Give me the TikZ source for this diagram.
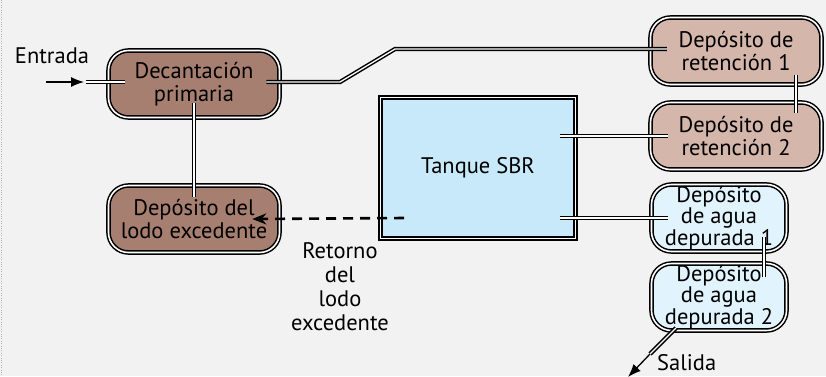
\documentclass[tikz,border=0pt]{standalone}
\usepackage{fontspec}
\setmainfont{PT Sans}
\usetikzlibrary{calc,arrows.meta}
\definecolor{backgr}{RGB}{242,242,242}
\definecolor{sludge}{RGB}{167,127,112}
\definecolor{retain}{RGB}{212,182,171}
\definecolor{sbrblue}{RGB}{200,233,249}
\definecolor{clean}{RGB}{225,243,252}
\tikzset{
  tank/.style={draw, double=white, double distance=1.6pt, line width=1.5pt,
    rounded corners=20pt, minimum width=171pt, minimum height=67pt,
    align=center, inner sep=0pt},
  pipe/.style={draw, double=white, double distance=1.3pt, line width=1.5pt},
  flow/.style={line width=1.3pt, -{Latex[length=13pt,width=10pt]}},
}
\begin{document}
\begin{tikzpicture}[x=1pt,y=-1pt,font=\fontsize{22.5}{23}\selectfont]
    \useasboundingbox (0,0) rectangle (826,376);
    \clip (0,0) rectangle (826,376);
    \fill[backgr] (0,0) rectangle (826,376);
    \draw[gray!60,dotted] (1,0) -- (1,376);
    % tanks
    \node[tank,fill=sludge] (dec) at (194,84) {Decantación\\primaria};
    \node[tank,fill=sludge] (lodo) at (194,219) {Depósito del\\lodo excedente};
    \node[draw,double=white,double distance=1.2pt,line width=1.5pt,fill=sbrblue,
      minimum width=195pt,minimum height=141pt] (sbr) at (478,168) {Tanque SBR};
    \node[tank,fill=retain] (ret1) at (736,51) {Depósito de\\retención 1};
    \node[tank,fill=retain] (ret2) at (736,136) {Depósito de\\retención 2};
    \node[tank,fill=clean,minimum width=135pt,
      font=\fontsize{22.5}{19.5}\selectfont] (agua1) at (719,218) {Depósito\\de agua\\depurada 1};
    \node[tank,fill=clean,minimum width=135pt,
      font=\fontsize{22.5}{19.5}\selectfont] (agua2) at (719,297) {Depósito\\de agua\\depurada 2};
    % labels
    \node (entrada) at (52,56) {Entrada};
    \node[align=center,font=\fontsize{22.5}{24}\selectfont] (retorno) at (340,287) {Retorno\\del\\lodo\\excedente};
    \node[anchor=base west,inner sep=1pt] (salida) at (656,370) {Salida};
    % pipes
    \coordinate (inlet) at (46,82);
    \coordinate (inpipe) at (86,82);
    \coordinate (kink1) at (340,82);
    \coordinate (kink2) at (395,49);
    \coordinate (outpipe) at (650,354);
    \coordinate (outlet) at (628,377);
    \draw[flow] (inlet) -- ($(inpipe)+(-2,0)$);
    \draw[pipe] (inpipe) -- ($(dec.west |- inpipe)+(17,0)$);
    \draw[pipe] ($(dec.east |- kink1)+(-14,0)$) -- (kink1) -- (kink2) -- ($(ret1.west |- kink2)+(17,0)$);
    \draw[pipe] ($(dec.center)+(0,19)$) -- ($(lodo.center)+(0,-22)$);
    \draw[pipe] ($(ret1.center)+(60,24)$) -- ($(ret2.center)+(60,-23)$);
    \draw[pipe] ($(sbr.east |- ret2)+(-16,0)$) -- ($(ret2.west)+(18,0)$);
    \draw[pipe] ($(sbr.east |- agua1)+(-16,0)$) -- ($(agua1.west)+(17,0)$);
    \draw[pipe] ($(agua1.center)+(45,19)$) -- ($(agua2.center)+(45,-20)$);
    \draw[pipe] ($(agua2.center)+(-43,31)$) -- (outpipe);
    \draw[flow] (outpipe) -- (outlet);
    \draw[line width=2.6pt,dash pattern=on 10pt off 7pt,-{Stealth[length=14pt,width=11pt]}]
      ($(sbr.center)+(-74,50)$) -- ($(lodo.east)+(-28,0)$);
\end{tikzpicture}
\end{document}
